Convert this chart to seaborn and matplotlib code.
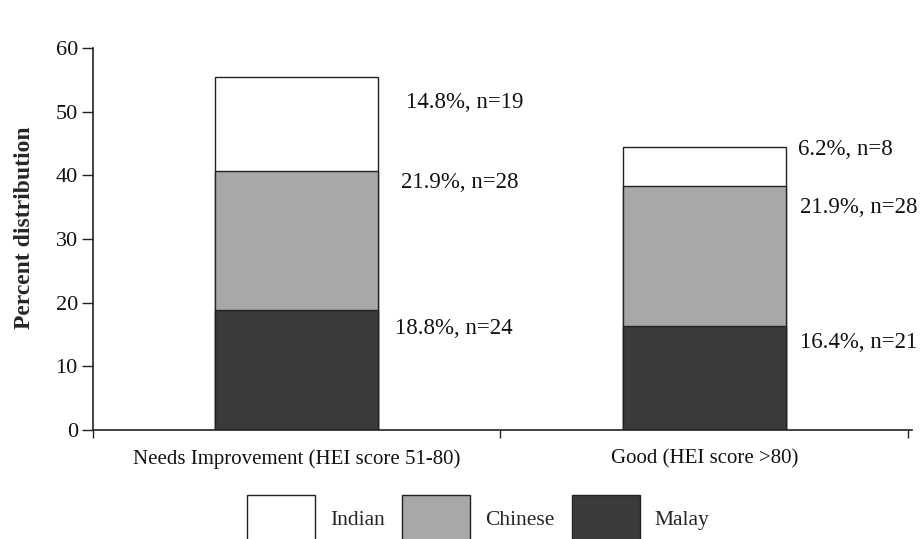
import matplotlib
matplotlib.use("Agg")
import matplotlib.pyplot as plt
import seaborn as sns
import pandas as pd
import numpy as np
from matplotlib.patches import Patch

categories = ["Needs Improvement (HEI score 51-80)", "Good (HEI score >80)"]
malay = [18.8, 16.4]
chinese = [21.9, 21.9]
indian = [14.8, 6.2]
malay_n = [24, 21]
chinese_n = [28, 28]
indian_n = [19, 8]
groups = ["Indian", "Chinese", "Malay"]
colors = {"Indian": "#ffffff", "Chinese": "#a8a8a8", "Malay": "#3a3a3a"}

sns.set_theme(style="white")
plt.rcParams["font.family"] = ["Liberation Serif", "DejaVu Serif"]

fig = plt.figure(figsize=(9.23, 5.39), dpi=100)
ax = fig.add_axes([0.1008, 0.2022, 0.8873, 0.7087])

m = np.array(malay)
c = np.array(chinese)
i = np.array(indian)
layers = [("Indian", m + c + i), ("Chinese", m + c), ("Malay", m)]
for name, vals in layers:
    df = pd.DataFrame({"cat": categories, "val": vals})
    sns.barplot(data=df, x="cat", y="val", color=colors[name], saturation=1,
                width=0.4, edgecolor="#222222", linewidth=1.0, ax=ax, zorder=2)

# annotation placement (layout only)
x_off = [[0.268, 0.256, 0.241], [0.231, 0.236, 0.236]]
y_pos = [[51.5, 38.8, 16.0], [44.0, 35.0, 13.7]]
for k in range(2):
    texts = [f"{indian[k]}%, n={indian_n[k]}",
             f"{chinese[k]}%, n={chinese_n[k]}",
             f"{malay[k]}%, n={malay_n[k]}"]
    for j, t in enumerate(texts):
        ax.text(k + x_off[k][j], y_pos[k][j], t, fontsize=16.5, va="center",
                ha="left", color="#111111", clip_on=False)

ax.set_ylim(0, 60)
ax.set_xlim(-0.5, 1.51)
ax.set_yticks(range(0, 61, 10))
ax.set_xlabel("")
ax.set_ylabel("Percent distribution", fontsize=17, fontweight="bold")
ax.yaxis.set_label_coords(-0.071, 0.529)
ax.tick_params(axis="y", labelsize=16, left=True, length=8, width=1, colors="#222222", pad=3)
ax.tick_params(axis="x", labelsize=15, bottom=False, pad=8)
ax.set_xticks([-0.5, 0.5, 1.5], minor=True)
ax.tick_params(axis="x", which="minor", bottom=True, length=6, width=1, color="#222222")
for lab in ax.get_xticklabels():
    lab.set_color("#111111")
for lab in ax.get_yticklabels():
    lab.set_color("#111111")

sns.despine(ax=ax)
for s in ["left", "bottom"]:
    ax.spines[s].set_color("#222222")
    ax.spines[s].set_linewidth(1.2)
ax.spines["left"].set_bounds(0, 60)

handles = [Patch(facecolor=colors[g], edgecolor="#222222", linewidth=1.0, label=g) for g in groups]
leg = fig.legend(handles=handles, loc="center left", bbox_to_anchor=(247 / 923, 1 - 519 / 539),
                 ncol=3, frameon=False, fontsize=15.5, handlelength=3.16, handleheight=3.1,
                 handletextpad=0.7, columnspacing=0.8, borderaxespad=0, borderpad=0)

fig.savefig("out.png", dpi=100)
